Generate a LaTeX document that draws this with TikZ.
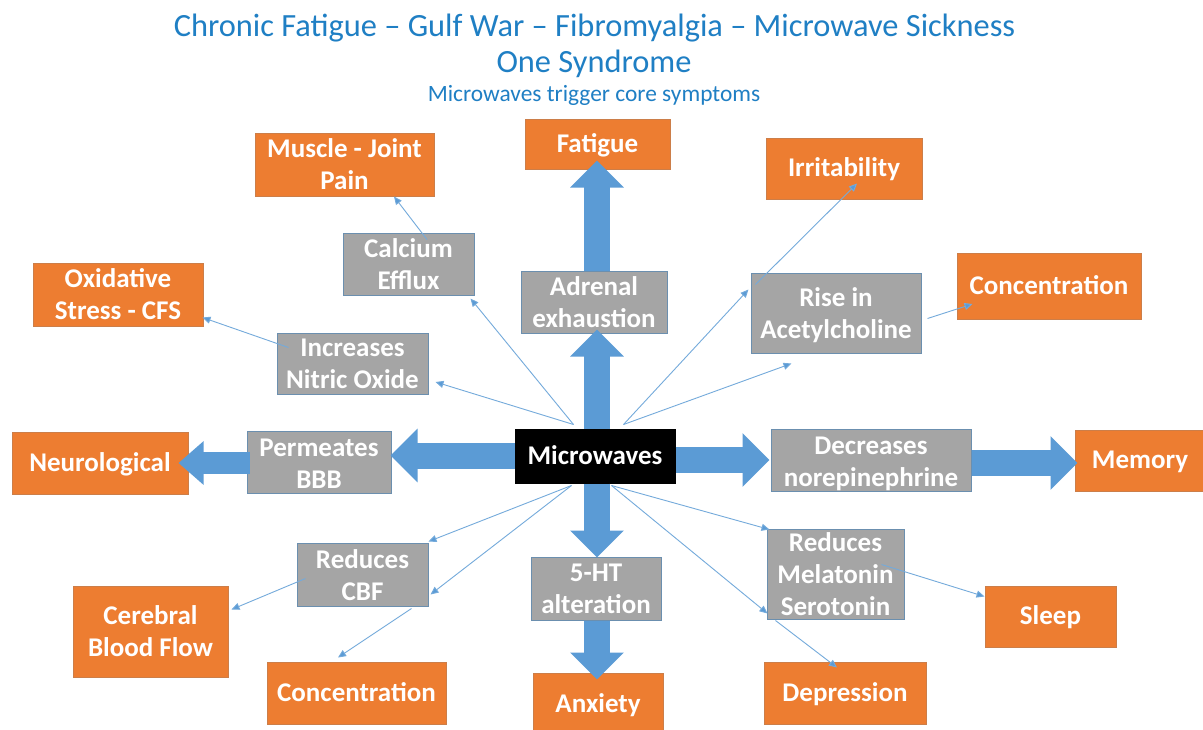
\documentclass[tikz,border=0pt]{standalone}
\usepackage{fontspec}
\setmainfont{Carlito}
\usetikzlibrary{arrows.meta,calc}
\definecolor{oOrange}{HTML}{ED7D31}
\definecolor{oGray}{HTML}{A5A5A5}
\definecolor{oBlue}{HTML}{5B9BD5}
\definecolor{oTitle}{HTML}{1F7FC4}
\tikzset{
  box/.style={draw=#1,line width=1pt,inner sep=0pt,align=center,text=white,
    font=\fontsize{27}{32}\selectfont\bfseries},
  orangebox/.style={box=oOrange!70!gray,fill=oOrange},
  graybox/.style={box=oBlue!55!gray,fill=oGray},
  blackbox/.style={box=black,fill=black},
  one/.style={text height=16pt,text depth=0pt},
  sz/.style 2 args={minimum width=#1pt,minimum height=#2pt},
  big/.style={draw=oBlue,line width=26pt,-{Triangle[length=27pt,width=52pt,fill=oBlue]}},
  bigsm/.style={draw=oBlue,line width=22pt,-{Triangle[length=25pt,width=42pt,fill=oBlue]}},
  thin/.style={draw=oBlue!85,line width=0.9pt,-{Triangle[length=8pt,width=7pt,fill=oBlue]}},
  titleA/.style={text=oTitle,inner sep=0pt,font=\fontsize{32.4}{36}\selectfont},
  titleB/.style={text=oTitle,inner sep=0pt,font=\fontsize{23.4}{26}\selectfont},
}
\begin{document}
\begin{tikzpicture}[x=1pt,y=-1pt]
\useasboundingbox (0,0) rectangle (1203,729);
\fill[white] (0,0) rectangle (1203,729);
% titles
\node[titleA] (t1) at (594.5,28) {Chronic Fatigue – Gulf War – Fibromyalgia – Microwave Sickness};
\node[titleA] (t2) at (594,64) {One Syndrome};
\node[titleB] (t3) at (594,95) {Microwaves trigger core symptoms};
% orange boxes
\node[orangebox,one,sz={145}{50}] (fatigue) at (597.5,144) {Fatigue};
\node[orangebox,sz={179}{63}] (muscle) at (344.5,164.5) {Muscle - Joint\\Pain};
\node[orangebox,one,sz={156}{61}] (irrit) at (844,168.5) {Irritability};
\node[orangebox,sz={170}{63}] (oxid) at (118,294.5) {Oxidative\\Stress - CFS};
\node[orangebox,one,sz={184}{66}] (concR) at (1049,286) {Concentration};
\node[orangebox,one,sz={176}{62}] (neuro) at (100,463) {Neurological};
\node[orangebox,one,sz={130}{61}] (memory) at (1140,460.5) {Memory};
\node[orangebox,sz={155}{91}] (cereb) at (150.5,631.5) {Cerebral\\Blood Flow};
\node[orangebox,one,sz={179}{62}] (concB) at (356.5,693) {Concentration};
\node[orangebox,one,sz={130}{62}] (anx) at (598,704) {Anxiety};
\node[orangebox,one,sz={162}{62}] (depr) at (845,693) {Depression};
\node[orangebox,one,sz={131}{61}] (sleep) at (1050.5,616.5) {Sleep};
% gray boxes
\node[graybox,sz={131}{62}] (calc) at (408.5,264) {Calcium\\Efflux};
\node[graybox,sz={146}{62}] (adren) at (594,302) {Adrenal\\exhaustion};
\node[graybox,sz={170}{80}] (rise) at (836,313) {\rule{0pt}{23pt}Rise in\\Acetylcholine};
\node[graybox,sz={151}{61}] (nitric) at (352.5,363.5) {Increases\\Nitric Oxide};
\node[graybox,sz={144}{62}] (perm) at (319,462) {\rule{0pt}{21pt}Permeates\\BBB};
\node[graybox,sz={200}{62}] (decr) at (871,460) {\rule{0pt}{25pt}Decreases\\norepinephrine};
\node[graybox,sz={131}{63}] (cbf) at (362.5,574.5) {\rule{0pt}{21pt}Reduces\\CBF};
\node[graybox,sz={130}{63}] (ht) at (596,588.5) {5-HT\\alteration};
\node[graybox,sz={137}{90}] (mel) at (835.5,574) {Reduces\\Melatonin\\Serotonin};
% hub
\node[blackbox,one,sz={160}{54},text height=17pt] (micro) at (595,456) {Microwaves};
% block arrows
\draw[big] ($(micro.north)+(2,0)$) -- ($(adren.south)+(3,-4)$);
\draw[big] ($(adren.north)+(3,0)$) -- ($(fatigue.south)+(-0.5,-9)$);
\draw[big] ($(micro.south)+(2,0)$) -- ($(ht.north)+(1,1)$);
\draw[big] ($(ht.south)+(1,0)$) -- ($(anx.north)+(-1,7)$);
\draw[big] ($(micro.west)+(0,-0.5)$) -- ($(perm.east)+(-1,-6.5)$);
\draw[bigsm] ($(perm.west)+(3,1)$) -- ($(neuro.east)+(-10,0)$);
\draw[big] ($(micro.east)+(0,4)$) -- ($(decr.west)+(-1,0)$);
\draw[big] ($(decr.east)+(0,3)$) -- ($(memory.west)+(3,2.5)$);
% thin arrows from the hub
\draw[thin] ($(micro.north west)+(59,-4)$) -- ($(nitric.east)+(7,18.5)$);
\draw[thin] ($(micro.north west)+(59,-4)$) -- ($(calc.south east)+(-4,3)$);
\draw[thin] ($(micro.north east)+(-52,-4)$) -- ($(rise.north west)+(-2,17)$);
\draw[thin] ($(micro.north east)+(-52,-4)$) -- ($(rise.south west)+(41,10)$);
\draw[thin] ($(micro.south west)+(57,2)$) -- ($(cbf.north east)+(0,-1)$);
\draw[thin] ($(micro.south west)+(57,2)$) -- ($(cbf.south east)+(2,-12)$);
\draw[thin] ($(micro.south east)+(-64,2)$) -- ($(mel.north west)+(3,1)$);
\draw[thin] ($(micro.south east)+(-64,2)$) -- ($(mel.south west)+(1,-6)$);
% thin arrows between boxes
\draw[thin] ($(nitric.north west)+(12,15)$) -- ($(oxid.south east)+(-1,-9)$);
\draw[thin] ($(calc.north)+(18.5,7)$) -- ($(muscle.south)+(49.5,0)$);
\draw[thin] ($(rise.north west)+(5,12)$) -- ($(irrit.south)+(13,-16)$);
\draw[thin] ($(rise.south east)+(6,-35)$) -- ($(concR.west)+(16,18)$);
\draw[thin] ($(cbf.north west)+(9,36)$) -- ($(cereb.north east)+(3,24)$);
\draw[thin] ($(cbf.south east)+(-17,2)$) -- ($(concB.north)+(-18.5,-4)$);
\draw[thin] ($(mel.south west)+(9,1)$) -- ($(depr.north)+(-8,6)$);
\draw[thin] ($(mel.north east)+(-23,36)$) -- ($(sleep.north west)+(0,11)$);
\end{tikzpicture}
\end{document}
